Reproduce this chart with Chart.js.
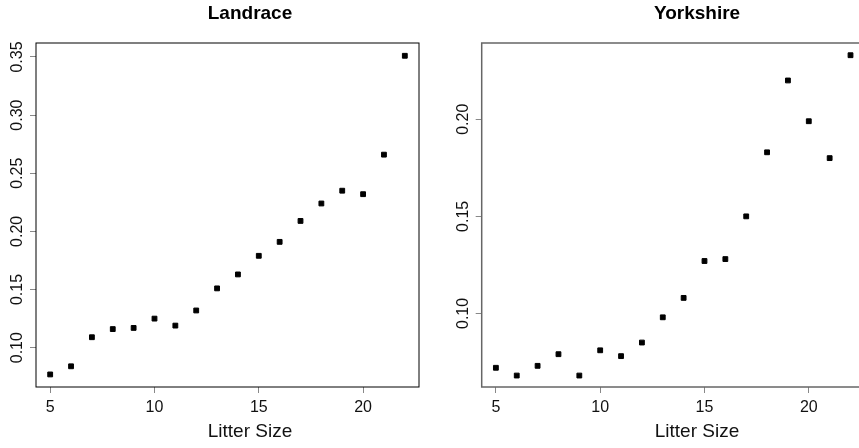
<!DOCTYPE html>
<html>
<head>
<meta charset="utf-8">
<script src="https://cdn.jsdelivr.net/npm/chart.js@4"></script>
<style>
  html, body { margin: 0; padding: 0; background: #fff; overflow: hidden; width: 859px; height: 448px; }
  canvas { position: absolute; top: 0; }
  #grafica1 { left: 0; }
  #grafica2 { left: 430px; }
</style>
</head>
<body>
<canvas id="grafica1" width="500" height="448"></canvas>
<canvas id="grafica2" width="534" height="448"></canvas>
<script>
const litterSize = [5, 6, 7, 8, 9, 10, 11, 12, 13, 14, 15, 16, 17, 18, 19, 20, 21, 22];
const landrace = [0.077, 0.084, 0.109, 0.116, 0.117, 0.125, 0.119, 0.132, 0.151, 0.163, 0.179, 0.191, 0.209, 0.224, 0.235, 0.232, 0.266, 0.351];
const yorkshire = [0.072, 0.068, 0.073, 0.079, 0.068, 0.081, 0.078, 0.085, 0.098, 0.108, 0.127, 0.128, 0.150, 0.183, 0.220, 0.199, 0.180, 0.233];
const xTicks = [5, 10, 15, 20];
const yTicksLandrace = [0.10, 0.15, 0.20, 0.25, 0.30, 0.35];
const yTicksYorkshire = [0.10, 0.15, 0.20];

const ctx1 = document.getElementById('grafica1').getContext('2d');
const ctx2 = document.getElementById('grafica2').getContext('2d');

Chart.defaults.font.family = '"Liberation Sans", Arial, sans-serif';
Chart.defaults.color = '#111';

// marco alrededor del area de la grafica (estilo R)
const boxPlugin = {
    id: 'box',
    afterDraw(chart, args, opts) {
        const a = chart.chartArea;
        const c = chart.ctx;
        c.save();
        c.strokeStyle = opts.color;
        c.lineWidth = opts.width;
        c.strokeRect(a.left, a.top, a.right - a.left, a.bottom - a.top);
        c.restore();
    }
};

function makeConfig(title, values, yTicks, yMin, yMax, axisWidth, rightPad, boxColor, boxWidth) {
    return {
        type: 'scatter',
        data: {
            datasets: [{
                data: litterSize.map((x, i) => ({ x: x, y: values[i] })),
                pointStyle: 'rect',
                pointRadius: 3.4,
                borderWidth: 1,
                backgroundColor: '#000',
                borderColor: '#000'
            }]
        },
        options: {
            responsive: false,
            animation: false,
            layout: { padding: 0 },
            plugins: {
                legend: { display: false },
                tooltip: { enabled: false },
                title: {
                    display: true,
                    text: title,
                    font: { size: 19, weight: 'bold' },
                    color: '#000',
                    padding: { top: 2, bottom: 18.2 }
                },
                subtitle: {
                    display: true,
                    position: 'bottom',
                    text: 'Litter Size',
                    font: { size: 19 },
                    color: '#111',
                    padding: { top: 0, bottom: 4.9 }
                },
                box: { color: boxColor, width: boxWidth }
            },
            scales: {
                x: {
                    type: 'linear',
                    min: 4.32,
                    max: 22.68,
                    afterBuildTicks: s => { s.ticks = xTicks.map(v => ({ value: v })); },
                    afterFit: s => { s.height = 33.3; },
                    grid: { drawOnChartArea: false, drawTicks: true, tickLength: 6, color: '#888' },
                    border: { display: false },
                    ticks: { font: { size: 16 }, padding: 5, maxRotation: 0, color: '#111' }
                },
                y: {
                    min: yMin,
                    max: yMax,
                    afterBuildTicks: s => { s.ticks = yTicks.map(v => ({ value: v })); },
                    afterFit: s => { s.width = axisWidth; },
                    grid: { drawOnChartArea: false, drawTicks: true, tickLength: 6, color: '#888' },
                    border: { display: false },
                    ticks: {
                        font: { size: 16 },
                        minRotation: 90,
                        maxRotation: 90,
                        crossAlign: 'center',
                        padding: -3,
                        color: '#111',
                        callback: v => v.toFixed(2)
                    }
                },
                // espacio vacio a la derecha para centrar los titulos
                margen: {
                    type: 'linear',
                    position: 'right',
                    display: true,
                    afterFit: s => { s.width = rightPad; },
                    grid: { display: false },
                    border: { display: false },
                    ticks: { display: false }
                }
            }
        },
        plugins: [boxPlugin]
    };
}

window.myChart1 = new Chart(ctx1, makeConfig('Landrace', landrace, yTicksLandrace, 0.0662, 0.362, 36, 81, '#000', 1));
window.myChart2 = new Chart(ctx2, makeConfig('Yorkshire', yorkshire, yTicksYorkshire, 0.0621, 0.2393, 51.7, 99.3, '#666', 1.5));
</script>
</body>
</html>
